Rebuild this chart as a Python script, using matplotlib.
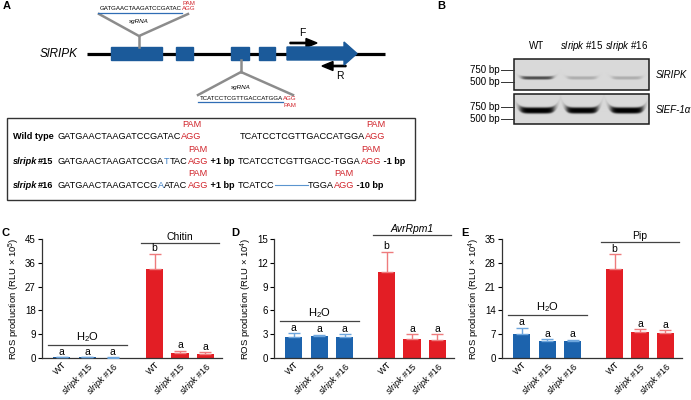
import numpy as np
import matplotlib
matplotlib.use("Agg")
import matplotlib.pyplot as plt
from matplotlib.patches import Rectangle, Polygon

plt.rcParams["font.family"] = ["Liberation Sans", "DejaVu Sans"]
plt.rcParams["mathtext.fontset"] = "custom"
plt.rcParams["mathtext.rm"] = "Liberation Sans"
plt.rcParams["mathtext.it"] = "Liberation Sans:italic"
plt.rcParams["mathtext.bf"] = "Liberation Sans:bold"

# ---------------------------------------------------#
# data
# ---------------------------------------------------#
genotypes = ["WT", r"$\mathit{slripk}$ #15", r"$\mathit{slripk}$ #16"]

# C: chitin (RLU x 10^5)
c_h2o, c_h2o_err = [0.2, 0.2, 0.15], [0.05, 0.05, 0.05]
c_trt, c_trt_err = [33.7, 1.9, 1.6], [5.7, 0.8, 0.7]
c_letters = ["a", "a", "a", "b", "a", "a"]
# D: AvrRpm1 (RLU x 10^4)
d_h2o, d_h2o_err = [2.65, 2.75, 2.65], [0.45, 0.2, 0.35]
d_trt, d_trt_err = [10.9, 2.45, 2.3], [2.5, 0.55, 0.7]
d_letters = ["a", "a", "a", "b", "a", "a"]
# E: Pip (RLU x 10^4)
e_h2o, e_h2o_err = [7.1, 5.0, 4.9], [1.8, 0.6, 0.5]
e_trt, e_trt_err = [26.1, 7.7, 7.4], [4.5, 0.7, 0.7]
e_letters = ["a", "a", "a", "b", "a", "a"]

# sequences
wt_site1 = "GATGAACTAAGATCCGATAC"
wt_site2 = "TCATCCTCGTTGACCATGGA"
pam = "AGG"

# gel band strength per lane (WT, #15, #16)
ripk_band = [0.55, 0.17, 0.17]
ef1a_band = [0.86, 0.84, 0.86]

BLUE, RED = "#1c63ad", "#e31e25"
EXON = "#1b5a9a"
PAMRED = "#d1242b"

fig = plt.figure(figsize=(6.91, 4.0), dpi=100)
ax0 = fig.add_axes([0, 0, 1, 1])
ax0.set_xlim(0, 691)
ax0.set_ylim(400, 0)
ax0.axis("off")
rend = fig.canvas.get_renderer()


def run(x, y, pieces, size):
    # write consecutive text pieces, return (start, width) of each
    out = []
    for s, kw in pieces:
        t = ax0.text(x, y, s, fontsize=size, ha="left", va="baseline", **kw)
        w = t.get_window_extent(renderer=rend).width
        out.append((x, w))
        x += w
    return out


# ---------------------------------------------------#
# panel A: gene model
# ---------------------------------------------------#
ax0.plot([87, 385], [53.5, 53.5], color="k", lw=2.3, solid_capstyle="butt", zorder=1)
for x0, x1 in [(111, 162), (176, 193), (231, 249), (259, 275)]:
    ax0.add_patch(Rectangle((x0, 47), x1 - x0, 13, color=EXON, zorder=2))
ax0.add_patch(Polygon([(287, 47), (344, 47), (344, 42), (357, 53.5), (344, 65), (344, 60), (287, 60)],
                      closed=True, color=EXON, zorder=2))
ax0.text(78, 54, "SlRIPK", fontsize=8.5, style="italic", ha="right", va="center")
ax0.arrow(290, 43, 27, 0, width=1.3, head_width=9, head_length=11, length_includes_head=True, color="k")
ax0.arrow(346, 66, -24, 0, width=1.3, head_width=9, head_length=11, length_includes_head=True, color="k")
ax0.text(302, 33, "F", fontsize=7.5, ha="center", va="center")
ax0.text(340, 76, "R", fontsize=7.5, ha="center", va="center")

GRAY = "#8c8c8c"
ax0.plot([99, 139, 188], [14, 36, 14], color=GRAY, lw=1.8, solid_joinstyle="miter")
ax0.plot([139, 139], [36, 47], color=GRAY, lw=1.8)
ax0.plot([198, 241, 293], [95, 72, 95], color=GRAY, lw=1.8, solid_joinstyle="miter")
ax0.plot([241, 241], [60, 72], color=GRAY, lw=1.8)
ax0.text(139, 21, "sgRNA", fontsize=4.5, style="italic", ha="center", va="center")
ax0.text(241, 88, "sgRNA", fontsize=4.5, style="italic", ha="center", va="center")

p = run(100, 10, [(wt_site1, {}), (pam, {"color": PAMRED})], 4.4)
ax0.plot([98, p[1][0]], [13, 13], color="#2f6db5", lw=0.9)
ax0.text(p[1][0] + p[1][1] / 2, 3.5, "PAM", fontsize=4.4, color=PAMRED, ha="center", va="center")
p = run(200, 100, [(wt_site2, {}), (pam, {"color": PAMRED})], 4.4)
ax0.plot([198, p[1][0]], [102, 102], color="#2f6db5", lw=0.9)
ax0.text(p[1][0] + p[1][1] / 2, 105.5, "PAM", fontsize=4.4, color=PAMRED, ha="center", va="center")

# sequence table
ax0.add_patch(Rectangle((7, 118), 408, 82, fill=False, ec="#333333", lw=1))
SZ = 6.6
bold = {"fontweight": "bold"}
bital = {"fontweight": "bold", "style": "italic"}
red = {"color": PAMRED}
ins = {"color": "#3c7fc4"}
rows_y = [139, 164, 188]


def pam_over(seg, y):
    ax0.text(seg[0] + seg[1] / 2, y - 12, "PAM", fontsize=SZ, color=PAMRED, ha="center", va="baseline")


# wild type
run(13, rows_y[0], [("Wild type", bold)], SZ)
p = run(58, rows_y[0], [(wt_site1, {}), (pam, red)], SZ)
pam_over(p[1], rows_y[0])
p = run(240, rows_y[0], [(wt_site2, {}), (pam, red)], SZ)
pam_over(p[1], rows_y[0])
# slripk#15
run(13, rows_y[1], [("slripk", bital), ("#15", bold)], SZ)
p = run(58, rows_y[1], [("GATGAACTAAGATCCGA", {}), ("T", ins), ("TAC", {}), (pam, red), (" +1 bp", bold)], SZ)
pam_over(p[3], rows_y[1])
p = run(238, rows_y[1], [("TCATCCTCGTTGACC-TGGA", {}), (pam, red), (" -1 bp", bold)], SZ)
pam_over(p[1], rows_y[1])
# slripk#16
run(13, rows_y[2], [("slripk", bital), ("#16", bold)], SZ)
p = run(58, rows_y[2], [("GATGAACTAAGATCCG", {}), ("A", ins), ("ATAC", {}), (pam, red), (" +1 bp", bold)], SZ)
pam_over(p[3], rows_y[2])
p = run(238, rows_y[2], [("TCATCC", {})], SZ)
x_gap = p[0][0] + p[0][1]
ax0.plot([x_gap, x_gap + 33], [rows_y[2] - 3, rows_y[2] - 3], color="#5b95cf", lw=0.8)
p = run(x_gap + 33, rows_y[2], [("TGGA", {}), (pam, red), (" -10 bp", bold)], SZ)
pam_over(p[1], rows_y[2])

# ---------------------------------------------------#
# panel B: gel
# ---------------------------------------------------#
lane_x = [537, 582, 627]


def gel(y0, y1, strength, widths, yc, half, curve):
    xs = np.linspace(514, 649, 270)
    ys = np.linspace(y0, y1, 62)
    img = np.full((ys.size, xs.size), 0.85)
    for cx, w, a in zip(lane_x, widths, strength):
        dx = (xs - cx) / (w / 2)
        xp = 1 / (1 + np.exp((np.abs(dx) - 1) * 10))
        yy = ys[:, None] - (yc - curve * dx[None, :] ** 6)
        img -= a * xp[None, :] * np.exp(-(yy / half) ** 4)
    ax0.imshow(img, cmap="gray", vmin=0, vmax=1, extent=(514, 649, y1, y0), aspect="auto",
               interpolation="bilinear", zorder=1)
    ax0.add_patch(Rectangle((514, y0), 135, y1 - y0, fill=False, ec="#1a1a1a", lw=1.1, zorder=2))


gel(59, 90, ripk_band, [31, 29, 29], 78, 1.7, 0.6)
gel(94, 124, ef1a_band, [34, 31, 32], 110.5, 3.2, 1.8)
ax0.set_xlim(0, 691)
ax0.set_ylim(400, 0)

for yy, lab in [(70, "750 bp"), (82, "500 bp"), (107, "750 bp"), (119, "500 bp")]:
    ax0.text(500, yy, lab, fontsize=7, ha="right", va="center")
    ax0.plot([501, 514], [yy, yy], color="#333333", lw=0.7)
for cx, lab in zip(lane_x, genotypes):
    ax0.text(cx, 46, lab, fontsize=7, ha="center", va="center")
ax0.text(656, 75, "SlRIPK", fontsize=7, style="italic", ha="left", va="center")
ax0.text(656, 110, "SlEF-1α", fontsize=7, style="italic", ha="left", va="center")

# ---------------------------------------------------#
# panels C-E: ROS bars
# ---------------------------------------------------#
x_pos = [0, 1, 2, 3.65, 4.65, 5.65]


def bar_panel(left_px, h2o, h2o_err, trt, trt_err, letters, ymax, ystep, power, trt_lab, trt_style,
              h2o_line, trt_line):
    ax = fig.add_axes([left_px / 691, 42 / 400, 180 / 691, 119 / 400])
    vals, errs = h2o + trt, h2o_err + trt_err
    cols = [BLUE] * 3 + [RED] * 3
    ecols = ["#6ea6dd"] * 3 + ["#ee7b7d"] * 3
    for x, v, e, c, ec, lt in zip(x_pos, vals, errs, cols, ecols, letters):
        ax.bar(x, v, width=0.68, color=c, zorder=2)
        ax.errorbar(x, v, yerr=[[0], [e]], fmt="none", ecolor=ec, elinewidth=1, capsize=4, capthick=1, zorder=3)
        ax.annotate(lt, (x, v + e), xytext=(0, 0.3), textcoords="offset points", ha="center", va="bottom",
                    fontsize=7.5)
    ax.set_xlim(-0.78, 6.3)
    ax.set_ylim(0, ymax)
    ax.set_yticks(np.arange(0, ymax + 0.1, ystep))
    ax.set_xticks(x_pos)
    ax.set_xticklabels(genotypes * 2, rotation=45, ha="right", rotation_mode="anchor", fontsize=6.6)
    ax.tick_params(axis="y", labelsize=7, length=3, width=0.8, pad=1.5)
    ax.tick_params(axis="x", length=0, pad=1.5)
    for s in ["top", "right"]:
        ax.spines[s].set_visible(False)
    for s in ["left", "bottom"]:
        ax.spines[s].set_linewidth(0.9)
        ax.spines[s].set_color("#333333")
    ax.set_ylabel(r"ROS production (RLU $\times$ 10$^{%d}$)" % power, fontsize=6.8, labelpad=2)
    ax.plot([-0.55, 2.55], [h2o_line, h2o_line], color="#444444", lw=0.9, clip_on=False)
    ax.plot([3.1, 6.2], [trt_line, trt_line], color="#444444", lw=0.9, clip_on=False)
    ax.annotate("H$_2$O", (1, h2o_line), xytext=(0, 1), textcoords="offset points", ha="center", va="bottom",
                fontsize=8)
    ax.annotate(trt_lab, (4.65, trt_line), xytext=(0, 1), textcoords="offset points", ha="center",
                va="bottom", fontsize=7.5, style=trt_style, annotation_clip=False)
    return ax


bar_panel(42, c_h2o, c_h2o_err, c_trt, c_trt_err, c_letters, 45, 9, 5, "Chitin", "normal", 4.9, 43.5)
bar_panel(274, d_h2o, d_h2o_err, d_trt, d_trt_err, d_letters, 15, 3, 4, "AvrRpm1", "italic", 4.66, 15.5)
bar_panel(502, e_h2o, e_h2o_err, e_trt, e_trt_err, e_letters, 35, 7, 4, "Pip", "normal", 12.6, 34.0)

for lx, ly, lab in [(3, 6, "A"), (437, 6, "B"), (1, 233, "C"), (231, 233, "D"), (461, 233, "E")]:
    ax0.text(lx, ly, lab, fontsize=8, fontweight="bold", ha="left", va="center")

fig.savefig("out.png", dpi=100)
